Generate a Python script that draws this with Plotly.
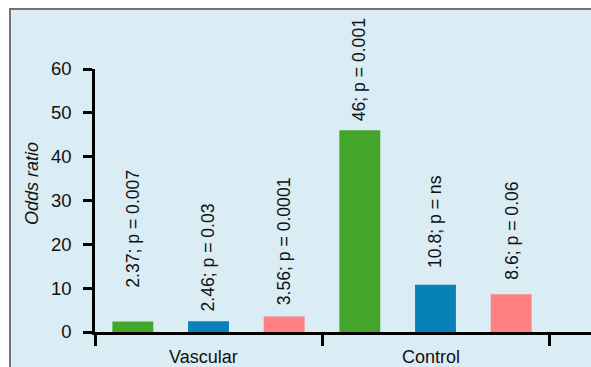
import plotly.graph_objects as go

# Odds ratios per marker group, with p-values, for two cohorts
groups = ["Vascular", "Control"]
series_colors = ["#43a52b", "#0880b8", "#ff8080"]
series_values = [
    [2.37, 46.0],   # first marker
    [2.46, 10.8],   # second marker
    [3.56, 8.6],    # third marker
]
series_pvalues = [
    ["0.007", "0.001"],
    ["0.03", "ns"],
    ["0.0001", "0.06"],
]
# height (odds-ratio units) at which each label starts
label_bases = [
    [9.6, 47.7],
    [4.1, 14.15],
    [5.7, 11.4],
]
y_ticks = [0, 10, 20, 30, 40, 50, 60]

W, H = 591, 367
M_L, M_R, M_T, M_B = 95, 0, 69, 35
FONT = "Liberation Sans, Arial, Helvetica, sans-serif"
PANEL = "#daecf4"
INK = "#111111"

group_x = [0.5, 1.5]
slot = 1 / 3

fig = go.Figure()
for i, vals in enumerate(series_values):
    fig.add_trace(go.Bar(
        x=group_x, y=vals, marker=dict(color=series_colors[i], line=dict(width=0)),
        showlegend=False, hoverinfo="skip",
    ))

# rotated value labels above each bar
annotations = []
for i, vals in enumerate(series_values):
    for g, v in enumerate(vals):
        cx = group_x[g] + (i - 1) * slot
        v_txt = f"{v:g}"
        annotations.append(dict(
            x=cx, y=label_bases[i][g], xref="x", yref="y",
            text=f"{v_txt}; p = {series_pvalues[i][g]}",
            textangle=-90, showarrow=False, xanchor="center", yanchor="bottom",
            font=dict(family=FONT, size=17.6, color=INK),
        ))

# category names under the axis
for g, name in enumerate(groups):
    annotations.append(dict(
        x=group_x[g] - 0.02, y=-0.05, xref="x", yref="paper", text=name,
        showarrow=False, xanchor="center", yanchor="top",
        font=dict(family=FONT, size=18, color=INK),
    ))

# axis title
plot_w = W - M_L - M_R
plot_h = H - M_T - M_B
annotations.append(dict(
    x=(32 - M_L) / plot_w, y=(H - M_B - 184) / plot_h, xref="paper", yref="paper",
    text="<i>Odds ratio</i>", textangle=-90, showarrow=False,
    xanchor="center", yanchor="middle",
    font=dict(family=FONT, size=18, color=INK),
))

# framed light-blue panel behind the chart
panel = dict(
    type="rect", xref="paper", yref="paper", layer="below",
    x0=(10 - M_L) / plot_w, x1=1.2,
    y0=-0.5, y1=(H - M_B - 9) / plot_h,
    fillcolor=PANEL, line=dict(color="#727272", width=2),
)

fig.update_layout(
    width=W, height=H,
    margin=dict(l=M_L, r=M_R, t=M_T, b=M_B, pad=0),
    paper_bgcolor="white", plot_bgcolor="rgba(0,0,0,0)",
    barmode="group", bargap=0, bargroupgap=0.46,
    shapes=[panel], annotations=annotations,
    font=dict(family=FONT, size=18, color=INK),
)
fig.update_xaxes(
    range=[0, (W - M_L - M_R) / 227], tickvals=[0, 1, 2], showticklabels=False,
    ticks="outside", ticklen=11, tickwidth=2.5, tickcolor="black",
    showline=True, linewidth=2.5, linecolor="black",
    showgrid=False, zeroline=False,
)
fig.update_yaxes(
    range=[0, 60], tickvals=y_ticks,
    ticks="outside", ticklen=9, tickwidth=2.5, tickcolor="black",
    showline=True, linewidth=2.5, linecolor="black",
    showgrid=False, zeroline=False, ticklabelstandoff=8,
    tickfont=dict(family=FONT, size=18.5, color=INK),
)

fig.write_html("out.html")
